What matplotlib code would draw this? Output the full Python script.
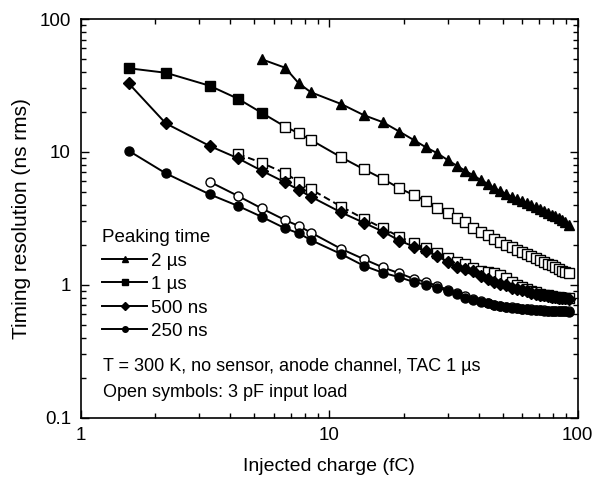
import matplotlib
matplotlib.use("Agg")
import matplotlib.pyplot as plt
from matplotlib.lines import Line2D
from matplotlib.ticker import LogLocator, NullFormatter

plt.rcParams['font.family'] = ['Liberation Sans', 'DejaVu Sans']

# ---------------- data ----------------
charge = [1.56, 2.2, 3.3, 4.3, 5.35, 6.65, 7.55, 8.45, 11.2, 13.8, 16.5, 19.2,
          21.9, 24.6, 27.3, 30.0, 32.7, 35.4, 38.1, 40.8, 43.5, 46.2, 48.9,
          51.6, 54.3, 57.0, 59.7, 62.4, 65.1, 67.8, 70.5, 73.2, 75.9, 78.6,
          81.3, 84.0, 86.7, 89.4, 92.1]

# 2 us (filled triangles), starts at charge[4]
res_2us = [49.8, 43.0, 32.8, 28.1, 22.9, 18.9, 16.7, 14.2, 12.3, 10.8, 9.76,
           8.69, 7.85, 7.2, 6.65, 6.15, 5.75, 5.35, 5.05, 4.85, 4.6, 4.45,
           4.3, 4.15, 4.0, 3.85, 3.72, 3.6, 3.48, 3.38, 3.28, 3.18, 3.08,
           2.97, 2.8]

# 1 us (filled squares at low charge, open squares after)
res_1us = [42.6, 39.4, 31.5, 25.1, 19.7, 15.5, 13.8, 12.3, 9.1, 7.4, 6.25,
           5.32, 4.74, 4.27, 3.80, 3.45, 3.17, 2.95, 2.68, 2.51, 2.37, 2.2,
           2.1, 2.0, 1.92, 1.83, 1.76, 1.7, 1.64, 1.59, 1.54, 1.48, 1.44,
           1.40, 1.36, 1.32, 1.28, 1.25, 1.22]
n_filled_1us = 5

# 500 ns (filled diamonds)
res_500ns = [32.8, 16.4, 11.1, 8.95, 7.22, 5.90, 5.17, 4.60, 3.5, 2.93, 2.51,
             2.15, 1.94, 1.79, 1.65, 1.49, 1.36, 1.31, 1.26, 1.17, 1.1, 1.05,
             1.02, 0.99, 0.95, 0.93, 0.91, 0.895, 0.875, 0.86, 0.845, 0.835,
             0.825, 0.815, 0.805, 0.8, 0.795, 0.79, 0.785]

# 500 ns, 3 pF load (open squares, dashed), starts at charge[3]
res_500ns_3pF = [9.64, 8.29, 6.90, 5.97, 5.23, 3.87, 3.14, 2.66, 2.3, 2.05,
                 1.88, 1.74, 1.6, 1.48, 1.43, 1.34, 1.28, 1.25, 1.22, 1.18,
                 1.12, 1.05, 1.0, 0.96, 0.93, 0.9, 0.88, 0.86, 0.845, 0.835,
                 0.825, 0.815, 0.805, 0.8, 0.795, 0.79]

# 250 ns (filled circles)
res_250ns = [10.2, 6.9, 4.8, 3.92, 3.25, 2.66, 2.44, 2.17, 1.70, 1.39, 1.23,
             1.14, 1.05, 1.0, 0.95, 0.9, 0.85, 0.8, 0.77, 0.745, 0.725, 0.705,
             0.69, 0.68, 0.67, 0.665, 0.66, 0.655, 0.65, 0.645, 0.643, 0.64,
             0.637, 0.635, 0.633, 0.632, 0.63, 0.63, 0.628]

# 250 ns, 3 pF load (open circles), starts at charge[2]
res_250ns_3pF = [5.97, 4.66, 3.76, 3.07, 2.77, 2.47, 1.86, 1.56, 1.35, 1.22,
                 1.11, 1.05, 0.98, 0.92, 0.87, 0.82, 0.78, 0.75, 0.73, 0.71,
                 0.695, 0.685, 0.675, 0.668, 0.662, 0.657, 0.652, 0.648,
                 0.645, 0.642, 0.64, 0.638, 0.636, 0.635, 0.634, 0.633, 0.632]

legend_labels = ["2 µs", "1 µs", "500 ns", "250 ns"]
legend_title = "Peaking time"
note_lines = ["T = 300 K, no sensor, anode channel, TAC 1 µs",
              "Open symbols: 3 pF input load"]
x_ticks = [1, 10, 100]
x_ticklabels = ["1", "10", "100"]
y_ticks = [0.1, 1, 10, 100]
y_ticklabels = ["0.1", "1", "10", "100"]

# ---------------- figure ----------------
fig = plt.figure(figsize=(5.96, 4.80), dpi=100)
ax = fig.add_axes([0.1354, 0.1298, 0.8336, 0.8306])
ax.set_xscale('log')
ax.set_yscale('log')

FS = 13.5
lw = 1.4
ms = 6.5
k = dict(color='black', lw=lw, mec='black', mew=1.0, ms=ms)

# 250 ns open
ax.plot(charge[2:], res_250ns_3pF, marker='o', mfc='white', zorder=2, **k)
# 250 ns filled
ax.plot(charge, res_250ns, marker='o', mfc='black', zorder=3, **k)
# 500 ns 3 pF dashed open squares
ax.plot(charge[3:], res_500ns_3pF, marker='s', mfc='white', ls=(0, (3.5, 2)),
        zorder=2, **k)
# 500 ns filled diamonds
ax.plot(charge, res_500ns, marker='D', mfc='black', zorder=3,
        **{**k, 'ms': 6.0})
# 1 us line + markers
ax.plot(charge, res_1us, color='black', lw=lw, zorder=2)
ax.plot(charge[:n_filled_1us], res_1us[:n_filled_1us], ls='none', marker='s',
        mfc='black', mec='black', mew=1.0, ms=ms, zorder=3)
ax.plot(charge[n_filled_1us:], res_1us[n_filled_1us:], ls='none', marker='s',
        mfc='white', mec='black', mew=1.0, ms=ms, zorder=3)
# 2 us filled triangles
ax.plot(charge[4:], res_2us, marker='^', mfc='black', zorder=3,
        **{**k, 'ms': 7.5})

ax.set_xlim(1, 100)
ax.set_ylim(0.1, 100)
ax.set_xticks(x_ticks)
ax.set_xticklabels(x_ticklabels)
ax.set_yticks(y_ticks)
ax.set_yticklabels(y_ticklabels)
ax.xaxis.set_minor_locator(LogLocator(base=10, subs=range(2, 10)))
ax.yaxis.set_minor_locator(LogLocator(base=10, subs=range(2, 10)))
ax.xaxis.set_minor_formatter(NullFormatter())
ax.yaxis.set_minor_formatter(NullFormatter())
ax.tick_params(which='both', direction='in', top=True, right=True,
               width=1.0, labelsize=FS, pad=7)
ax.tick_params(which='major', length=5.5)
ax.tick_params(which='minor', length=3.5)
for s in ax.spines.values():
    s.set_linewidth(1.2)

ax.set_xlabel("Injected charge (fC)", fontsize=14, labelpad=10)
ax.set_ylabel("Timing resolution (ns rms)", fontsize=15, labelpad=6)

handles = [
    Line2D([], [], color='black', lw=lw, marker='^', mfc='black', mec='black', ms=5),
    Line2D([], [], color='black', lw=lw, marker='s', mfc='black', mec='black', ms=4),
    Line2D([], [], color='black', lw=lw, marker='D', mfc='black', mec='black', ms=4),
    Line2D([], [], color='black', lw=lw, marker='o', mfc='black', mec='black', ms=4),
]
leg = ax.legend(handles, legend_labels, title=legend_title, loc='upper left',
                bbox_to_anchor=(0.043, (417.7 - 229) / 398.7), frameon=False,
                fontsize=FS, title_fontsize=FS, handlelength=2.4,
                handletextpad=0.2, labelspacing=0.34, borderpad=0,
                borderaxespad=0, alignment='left')

ax.text(0.045, (417.7 - 367) / 398.7, note_lines[0], transform=ax.transAxes,
        fontsize=13, va='center', ha='left')
ax.text(0.045, (417.7 - 393) / 398.7, note_lines[1], transform=ax.transAxes,
        fontsize=13, va='center', ha='left')

fig.savefig("out.png", dpi=100)
